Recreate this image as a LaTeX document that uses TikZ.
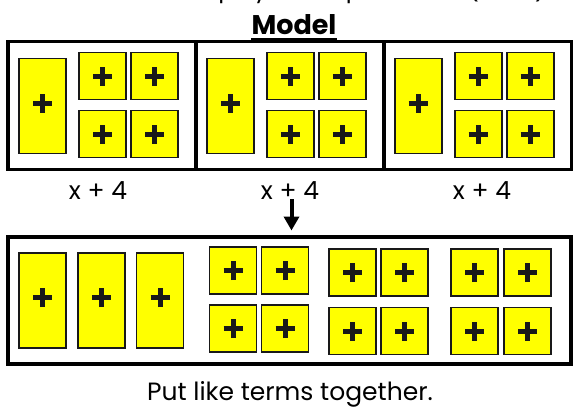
\documentclass[tikz,border=0pt]{standalone}
\usepackage{fontspec}
\setmainfont{Poppins}
\usetikzlibrary{arrows.meta}
\definecolor{tileyellow}{RGB}{255,255,0}
\tikzset{
  x=1pt, y=-1pt,
  frame/.style={draw=black, line width=3.8pt, inner sep=0pt, outer sep=0pt},
  plusmark/.style={path picture={
      \draw[line width=5pt] ([shift={(-9.5pt,#1)}]path picture bounding box.center) -- ++(19pt,0pt);
      \draw[line width=5pt] ([shift={(0pt,#1-9.5pt)}]path picture bounding box.center) -- ++(0pt,19pt);}},
  tile/.style={draw=black!90, fill=tileyellow, line width=1.8pt, inner sep=0pt, minimum width=47pt},
  tall/.style={tile, minimum height=95pt, plusmark=3pt},
  sq/.style={tile, minimum height=47pt, plusmark=0pt},
  lbl/.style={inner sep=0pt, anchor=base, font=\fontsize{25}{30}\selectfont},
  arr/.style={line width=4pt, -{Triangle[width=15pt,length=14pt]}}
}
\begin{document}
\begin{tikzpicture}
\useasboundingbox (0,0) rectangle (580,413);
\clip (0,0) rectangle (580,413);
\fill[white] (0,0) rectangle (580,413);

% instruction line, cut off by the page edge
\node[lbl, anchor=base east, font=\fontsize{24}{30}\selectfont] (instr) at (551,-3) {Use a model to simplify the expression 3(x + 4).};

% heading
\node[lbl, font=\fontsize{27}{32}\selectfont\bfseries] (title) at (294,34.5) {Model};
\draw[line width=3.2pt] ([yshift=-5pt]title.base west) -- ([yshift=-5pt]title.base east);

% three groups of x + 4
\foreach \k in {0,1,2} {
  \pgfmathsetmacro{\xo}{8+187.8*\k}
  \node[frame, minimum width=187.8pt, minimum height=128pt] (grp\k) at (\xo+93.9,105.5) {};
  \node[tall] (g\k x) at (\xo+34.5,106) {};
  \node[sq] (g\k a) at (\xo+94.5,76) {};
  \node[sq] (g\k b) at (\xo+146.5,76) {};
  \node[sq] (g\k c) at (\xo+94.5,134) {};
  \node[sq] (g\k d) at (\xo+146.5,134) {};
}
\node[lbl] (lbl0) at (98,199.5) {x + 4};
\node[lbl] (lbl1) at (290,199.5) {x + 4};
\node[lbl] (lbl2) at (482,199.5) {x + 4};

% combined model
\node[frame, minimum width=563pt, minimum height=126.7pt] (all) at (289.5,300.35) {};
\node[tall] (x1) at (42.5,300.5) {};
\node[tall] (x2) at (101.5,300.5) {};
\node[tall] (x3) at (160,300.5) {};
\node[sq] (u1) at (233,270.5) {};
\node[sq] (u2) at (285,270.5) {};
\node[sq] (u3) at (233,328.5) {};
\node[sq] (u4) at (285,328.5) {};
\node[sq] (v1) at (352.5,272.5) {};
\node[sq] (v2) at (404.5,272.5) {};
\node[sq] (v3) at (352.5,331) {};
\node[sq] (v4) at (404.5,331) {};
\node[sq] (w1) at (474.5,272.5) {};
\node[sq] (w2) at (527.5,272.5) {};
\node[sq] (w3) at (474.5,331) {};
\node[sq] (w4) at (527.5,331) {};

% arrow from the middle group down to the combined model
\coordinate (arrtop) at (291.5,199);
\coordinate (arrtip) at (291.5,230.5);
\draw[arr] (arrtop) -- (arrtip);

\node[lbl] (caption) at (290,400) {Put like terms together.};
\end{tikzpicture}
\end{document}
